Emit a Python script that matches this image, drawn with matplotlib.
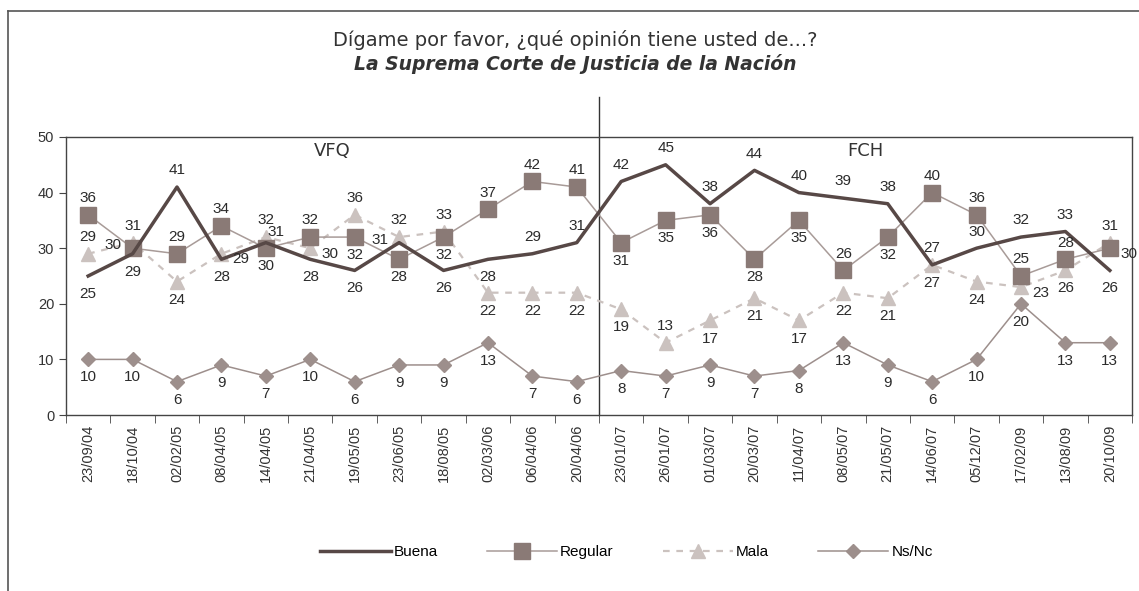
import numpy as np
import matplotlib.pyplot as plt
from matplotlib.lines import Line2D

plt.rcParams['font.family'] = ['Liberation Sans', 'DejaVu Sans']

# Fechas de las encuestas
fechas = ['23/09/04', '18/10/04', '02/02/05', '08/04/05', '14/04/05', '21/04/05',
          '19/05/05', '23/06/05', '18/08/05', '02/03/06', '06/04/06', '20/04/06',
          '23/01/07', '26/01/07', '01/03/07', '20/03/07', '11/04/07', '08/05/07',
          '21/05/07', '14/06/07', '05/12/07', '17/02/09', '13/08/09', '20/10/09']

buena = [25, 29, 41, 28, 31, 28, 26, 31, 26, 28, 29, 31,
         42, 45, 38, 44, 40, 39, 38, 27, 30, 32, 33, 26]
regular = [36, 30, 29, 34, 30, 32, 32, 28, 32, 37, 42, 41,
           31, 35, 36, 28, 35, 26, 32, 40, 36, 25, 28, 30]
mala = [29, 31, 24, 29, 32, 30, 36, 32, 33, 22, 22, 22,
        19, 13, 17, 21, 17, 22, 21, 27, 24, 23, 26, 31]
nsnc = [10, 10, 6, 9, 7, 10, 6, 9, 9, 13, 7, 6,
        8, 7, 9, 7, 8, 13, 9, 6, 10, 20, 13, 13]

# posicion de las etiquetas: a=arriba, b=abajo, l=izquierda, r=derecha, q=arriba-derecha
pos_buena = ['b', 'b', 'a', 'b', 'q', 'b', 'b', 'l', 'b', 'b', 'a', 'a',
             'a', 'a', 'a', 'a', 'a', 'a', 'a', 'a', 'a', 'a', 'a', 'b']
pos_regular = ['a', 'l', 'a', 'a', 'b', 'a', 'b', 'b', 'b', 'a', 'a', 'a',
               'b', 'b', 'b', 'b', 'b', 'a', 'b', 'a', 'a', 'a', 'a', 'r']
pos_mala = ['a', 'a', 'b', 'r', 'a', 'r', 'a', 'a', 'a', 'b', 'b', 'b',
            'b', 'a', 'b', 'b', 'b', 'b', 'b', 'b', 'b', 'r', 'b', 'a']
pos_nsnc = ['b'] * 24

offsets = {'a': (0, 12), 'b': (0, -13), 'l': (-14, 2), 'r': (14, -4), 'q': (7, 8)}

fig = plt.figure(figsize=(11.39, 5.91), dpi=100)
ax = fig.add_axes([0.0579, 0.2978, 0.936, 0.4704])

x = np.arange(len(fechas))

c_buena = '#574846'
c_reg = '#8a7a76'
c_reg_l = '#a89b98'
c_mala = '#cbc2bf'
c_ns = '#9d8f8c'

ax.plot(x, buena, color=c_buena, lw=2.5, label='Buena', zorder=5)
ax.plot(x, regular, color=c_reg_l, lw=1.1, marker='s', ms=11,
        mfc=c_reg, mec=c_reg, label='Regular', zorder=4)
ax.plot(x, mala, color=c_mala, lw=1.6, ls=(0, (3, 3)), marker='^', ms=10,
        mfc=c_mala, mec=c_mala, label='Mala', zorder=3)
ax.plot(x, nsnc, color=c_ns, lw=1.1, marker='D', ms=7.5,
        mfc=c_ns, mec=c_ns, label='Ns/Nc', zorder=3)

for serie, pos in [(buena, pos_buena), (regular, pos_regular),
                   (mala, pos_mala), (nsnc, pos_nsnc)]:
    for i, v in enumerate(serie):
        dx, dy = offsets[pos[i]]
        ax.annotate(str(v), (i, v), xytext=(dx, dy), textcoords='offset points',
                    ha='center', va='center', fontsize=11, color='#2b2b2b', zorder=6)

ax.set_xlim(-0.5, len(fechas) - 0.5)
ax.set_ylim(0, 50)
ax.set_yticks([0, 10, 20, 30, 40, 50])
ax.set_xticks(x)
ax.set_xticklabels(fechas, rotation=90, fontsize=10.5, color='#333333')
ax.set_xticks(np.arange(-0.5, len(fechas)), minor=True)
ax.tick_params(axis='x', which='major', length=0, pad=7)
ax.tick_params(axis='x', which='minor', length=6, direction='out', color='#444444')
ax.tick_params(axis='y', length=5, direction='out', labelsize=10.5,
               labelcolor='#333333', color='#444444')
for s in ax.spines.values():
    s.set_color('#444444')
    s.set_linewidth(1.0)

# division entre sexenios
ax.plot([11.5, 11.5], [0, 57.2], color='#333333', lw=1.0, clip_on=False, zorder=2)
ax.text(5.5, 47.4, 'VFQ', ha='center', va='center', fontsize=13,
        color='#333333', family='DejaVu Sans')
ax.text(17.5, 47.4, 'FCH', ha='center', va='center', fontsize=13,
        color='#333333', family='DejaVu Sans')

fig.text(0.505, 0.932, 'Dígame por favor, ¿qué opinión tiene usted de...?',
         ha='center', va='center', fontsize=14, color='#333333', family='DejaVu Sans')
fig.text(0.505, 0.892, 'La Suprema Corte de Justicia de la Nación',
         ha='center', va='center', fontsize=13.5, color='#333333',
         style='italic', weight='bold', family='DejaVu Sans')

# marco exterior
fig.add_artist(Line2D([8 / 1139, 8 / 1139], [0, 1 - 11 / 591],
                      transform=fig.transFigure, color='#555555', lw=1.2))
fig.add_artist(Line2D([8 / 1139, 1], [1 - 11 / 591, 1 - 11 / 591],
                      transform=fig.transFigure, color='#555555', lw=1.2))

fig.legend(loc='center', bbox_to_anchor=(0.55, 0.066), ncol=4, frameon=False,
           fontsize=11, handlelength=4.6, columnspacing=3.2, handletextpad=0.2)

fig.savefig('out.png', dpi=100)
